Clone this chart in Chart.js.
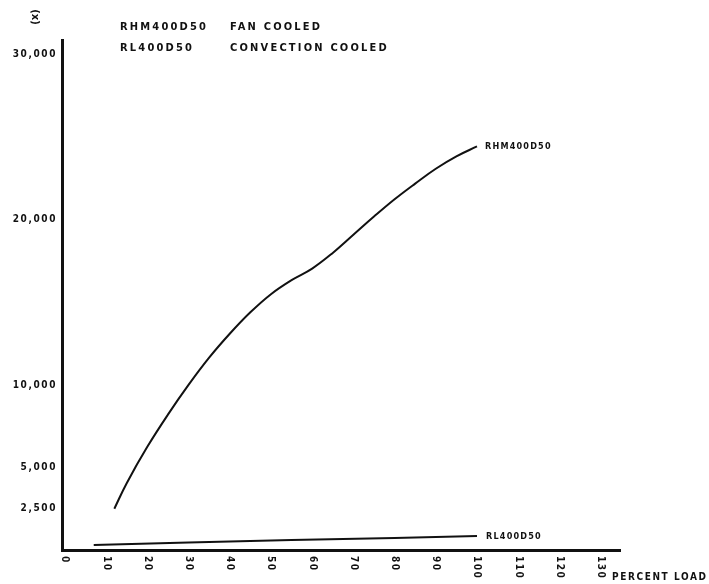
<!DOCTYPE html>
<html>
<head>
<meta charset="utf-8">
<script src="https://cdn.jsdelivr.net/npm/chart.js@4.4.1/dist/chart.umd.min.js"></script>
<style>
  html, body { margin: 0; padding: 0; background: #fff; }
  #wrap { position: relative; width: 709px; height: 584px; }
</style>
</head>
<body>
<div id="wrap"><canvas id="c" width="709" height="584"></canvas></div>
<script>
// ---- data ----
const rhmLoad   = [12, 15, 20, 25, 30, 35, 40, 45, 50, 55, 60, 65, 70, 75, 80, 85, 90, 95, 100];
const rhmValues = [2500, 4050, 6250, 8200, 10000, 11650, 13100, 14400, 15500, 16350, 17050, 18000, 19100, 20200, 21250, 22200, 23100, 23850, 24450];
const rlLoad    = [7, 30, 55, 80, 100];
const rlValues  = [300, 450, 600, 730, 850];
const xTicks    = [0, 10, 20, 30, 40, 50, 60, 70, 80, 90, 100, 110, 120, 130];
const yTicks    = [2500, 5000, 10000, 20000, 30000];
const rhmName   = 'RHM400D50';
const rlName    = 'RL400D50';
const header    = [['RHM400D50', 'FAN COOLED'], ['RL400D50', 'CONVECTION COOLED']];
const xTitle    = 'PERCENT LOAD';
const yUnit     = '(x)';

const ink = '#111';
const toPts = (xs, ys) => xs.map((x, i) => ({ x: x, y: ys[i] }));
const fmt = v => v.toLocaleString('en-US');

const textPlugin = {
  id: 'texts',
  afterDraw(chart) {
    const ctx = chart.ctx;
    const xs = chart.scales.x, ys = chart.scales.y;
    ctx.save();
    ctx.fillStyle = ink;
    const F = (px) => 'bold ' + px + 'px "DejaVu Sans Condensed", "Liberation Sans", Arial, sans-serif';
    // y tick labels
    ctx.font = F(10);
    ctx.letterSpacing = '1.6px';
    ctx.textAlign = 'right';
    ctx.textBaseline = 'middle';
    yTicks.forEach(v => ctx.fillText(fmt(v), 57, ys.getPixelForValue(v)));
    // x tick labels, rotated clockwise
    ctx.font = F(10);
    ctx.letterSpacing = '1.5px';
    xTicks.forEach(v => {
      ctx.save();
      ctx.translate(xs.getPixelForValue(v), chart.chartArea.bottom + 6);
      ctx.rotate(Math.PI / 2);
      ctx.textAlign = 'left';
      ctx.textBaseline = 'middle';
      ctx.fillText(String(v), 0, 0);
      ctx.restore();
    });
    // axis title
    ctx.font = F(10);
    ctx.letterSpacing = '1.6px';
    ctx.textAlign = 'left';
    ctx.textBaseline = 'middle';
    ctx.fillText(xTitle, 612, 577);
    // unit marker
    ctx.save();
    ctx.translate(35, 17);
    ctx.rotate(Math.PI / 2);
    ctx.textAlign = 'center';
    ctx.font = F(11);
    ctx.letterSpacing = '0px';
    ctx.fillText(yUnit, 0, 0);
    ctx.restore();
    // header
    ctx.font = F(11);
    ctx.letterSpacing = '2.2px';
    ctx.textAlign = 'left';
    header.forEach((row, i) => {
      const y = 27 + i * 21;
      ctx.fillText(row[0], 120, y);
      ctx.fillText(row[1], 230, y);
    });
    // series end labels
    ctx.font = F(9);
    ctx.letterSpacing = '1.2px';
    const n1 = rhmLoad.length - 1, n2 = rlLoad.length - 1;
    ctx.fillText(rhmName, xs.getPixelForValue(rhmLoad[n1]) + 8, ys.getPixelForValue(rhmValues[n1]));
    ctx.fillText(rlName, xs.getPixelForValue(rlLoad[n2]) + 9, ys.getPixelForValue(rlValues[n2]) + 1);
    ctx.restore();
  }
};

new Chart(document.getElementById('c'), {
  type: 'line',
  data: {
    datasets: [
      { label: rhmName, data: toPts(rhmLoad, rhmValues), borderColor: ink, borderWidth: 2, pointRadius: 0, tension: 0.4, fill: false },
      { label: rlName, data: toPts(rlLoad, rlValues), borderColor: ink, borderWidth: 2, pointRadius: 0, tension: 0.4, fill: false }
    ]
  },
  options: {
    responsive: false,
    animation: false,
    events: [],
    layout: { padding: { left: 62, top: 40, right: 89, bottom: 34 } },
    plugins: { legend: { display: false }, tooltip: { enabled: false }, title: { display: false } },
    scales: {
      x: {
        type: 'linear', min: -0.7, max: 134.7,
        grid: { display: false, drawTicks: false, tickLength: 0 },
        border: { display: true, color: ink, width: 3 },
        ticks: { display: false },
        afterBuildTicks: s => { s.ticks = xTicks.map(v => ({ value: v })); },
        afterFit: s => { s.height = 0; }
      },
      y: {
        type: 'linear', min: 0, max: 30900,
        grid: { display: false, drawTicks: false, tickLength: 0 },
        border: { display: true, color: ink, width: 3 },
        ticks: { display: false },
        afterBuildTicks: s => { s.ticks = yTicks.map(v => ({ value: v })); },
        afterFit: s => { s.width = 0; }
      }
    }
  },
  plugins: [textPlugin]
});
</script>
</body>
</html>
